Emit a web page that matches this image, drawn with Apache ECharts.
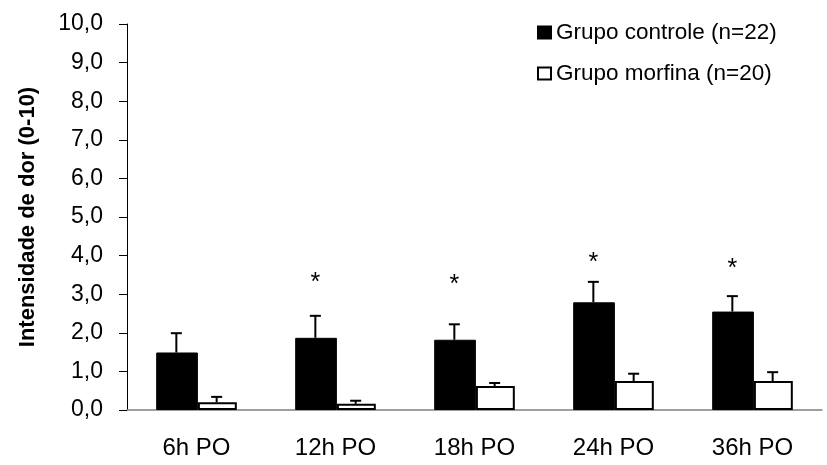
<!DOCTYPE html>
<html>
<head>
<meta charset="utf-8">
<script src="https://cdn.jsdelivr.net/npm/echarts@6/dist/echarts.min.js"></script>
<style>
  html, body { margin: 0; padding: 0; background: #fff; }
  #main { width: 827px; height: 465px; }
</style>
</head>
<body>
<div id="main"></div>
<script>
var categories = ['6h PO', '12h PO', '18h PO', '24h PO', '36h PO'];
var controleMean = [1.49, 1.87, 1.82, 2.79, 2.55];
var controleErr = [0.50, 0.57, 0.40, 0.53, 0.40];
var morfinaMean = [0.20, 0.16, 0.62, 0.75, 0.75];
var morfinaErr = [0.14, 0.08, 0.08, 0.19, 0.23];
// asterisk heights (null = no significance mark)
var starLevel = [null, 3.45, 3.40, 3.95, 3.80];

var fontName = '"Liberation Sans", Arial, sans-serif';
var barPct = 0.29;

var errorBars = function(means, errs, side) {
	var data = [];
	for (var i = 0; i < means.length; i++) {
		data.push([i, means[i], means[i] + errs[i]]);
	}
	return {
		type : 'custom',
		silent : true,
		z : 5,
		renderItem : function(params, api) {
			var bandW = api.size([1, 0])[0];
			var bw = bandW * barPct;
			var base = api.coord([api.value(0), api.value(1)]);
			var top = api.coord([api.value(0), api.value(2)]);
			var x = base[0] + side * bw / 2;
			var cap = 5.5;
			var st = { stroke : '#000', lineWidth : 2 };
			return {
				type : 'group',
				children : [ {
					type : 'line',
					shape : { x1 : x, y1 : base[1], x2 : x, y2 : top[1] },
					style : st
				}, {
					type : 'line',
					shape : { x1 : x - cap, y1 : top[1], x2 : x + cap, y2 : top[1] },
					style : st
				} ]
			};
		},
		data : data
	};
};

var stars = [];
for (var i = 0; i < starLevel.length; i++) {
	if (starLevel[i] != null) {
		stars.push([i, starLevel[i]]);
	}
}

var chart = echarts.init(document.getElementById('main'));
var option = {
	animation : false,
	grid : { left : 127, right : 5, top : 24, bottom : 55, containLabel : false },
	legend : {
		orient : 'vertical',
		left : 532,
		top : 16,
		itemWidth : 13,
		itemHeight : 12,
		itemGap : 18,
		icon : 'rect',
		textStyle : { fontFamily : fontName, fontSize : 22.5, color : '#000' },
		data : [ 'Grupo controle (n=22)', 'Grupo morfina (n=20)' ]
	},
	xAxis : {
		type : 'category',
		data : categories,
		axisLine : { lineStyle : { color : '#808080', width : 1.5 } },
		axisTick : { show : false },
		axisLabel : { fontFamily : fontName, fontSize : 24, color : '#000', margin : 26 }
	},
	yAxis : {
		type : 'value',
		min : 0,
		max : 10,
		interval : 1,
		name : 'Intensidade de dor (0-10)',
		nameLocation : 'middle',
		nameGap : 88,
		nameTextStyle : { fontFamily : fontName, fontSize : 22, fontWeight : 'bold', color : '#000' },
		axisLine : { show : true, lineStyle : { color : '#000', width : 1 } },
		axisTick : { show : true, length : 8, lineStyle : { color : '#000' } },
		splitLine : { show : false },
		axisLabel : {
			fontFamily : fontName, fontSize : 23, color : '#000', margin : 24,
			formatter : function(v) { return v.toFixed(1).replace('.', ','); }
		}
	},
	series : [ {
		name : 'Grupo controle (n=22)',
		type : 'bar',
		barWidth : '30%',
		barGap : '0%',
		itemStyle : { color : '#000', borderColor : '#000', borderWidth : 1 },
		data : controleMean
	}, {
		name : 'Grupo morfina (n=20)',
		type : 'bar',
		barWidth : '28%',
		barGap : '0%',
		itemStyle : { color : '#fff', borderColor : '#000', borderWidth : 2 },
		data : morfinaMean
	},
	errorBars(controleMean, controleErr, -1),
	errorBars(morfinaMean, morfinaErr, 1),
	{
		type : 'custom',
		silent : true,
		z : 6,
		renderItem : function(params, api) {
			var bw = api.size([1, 0])[0] * barPct;
			var p = api.coord([api.value(0), api.value(1)]);
			return {
				type : 'text',
				x : p[0] - bw / 2,
				y : p[1] + 6,
				style : {
					text : '*',
					fontFamily : fontName,
					fontSize : 25,
					fill : '#000',
					align : 'center',
					verticalAlign : 'middle'
				}
			};
		},
		data : stars
	} ]
};
chart.setOption(option);
</script>
</body>
</html>
